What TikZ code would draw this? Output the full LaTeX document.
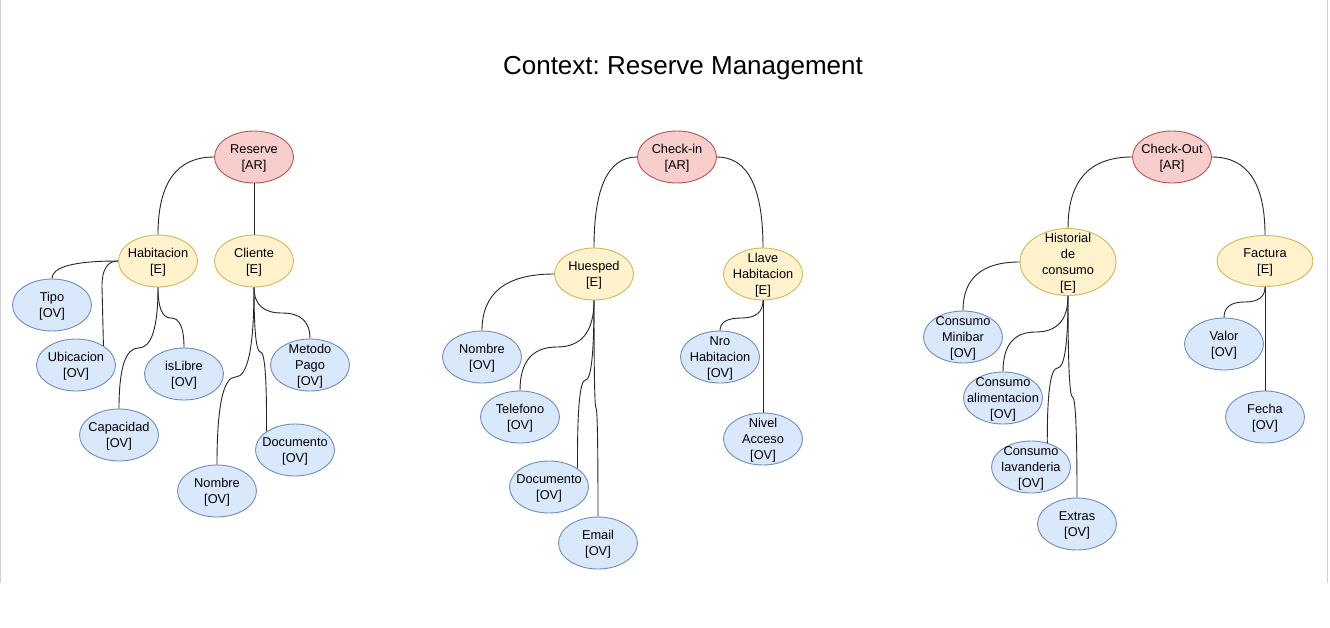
\documentclass[tikz,border=0pt]{standalone}
\usepackage{fontspec}
\setmainfont{Liberation Sans}
\usetikzlibrary{shapes.geometric,calc}
\frenchspacing
\definecolor{arfill}{HTML}{F8CECC}
\definecolor{arline}{HTML}{B85450}
\definecolor{efill}{HTML}{FFF2CC}
\definecolor{eline}{HTML}{D6B656}
\definecolor{ovfill}{HTML}{DAE8FC}
\definecolor{ovline}{HTML}{6C8EBF}
\definecolor{framecol}{HTML}{D0D0D0}
\begin{document}
\begin{tikzpicture}[x=1pt,y=-1pt,
  base/.style={ellipse, draw, line width=0.9pt, inner sep=-20pt, minimum width=79pt, minimum height=52pt, align=center, text depth=0pt, font=\fontsize{12.8}{16}\selectfont},
  ar/.style={base, fill=arfill, draw=arline},
  ent/.style={base, fill=efill, draw=eline},
  ov/.style={base, fill=ovfill, draw=ovline},
  edge/.style={line width=0.9pt, draw=black!85},
  q/.style={to path={.. controls ($(\tikztostart)!0.6667!(#1)$) and ($(\tikztotarget)!0.6667!(#1)$) .. (\tikztotarget)}},
  framel/.style={draw=framecol, line width=1pt}
]
\fill[white] (0,0) rectangle (1330,627);
\useasboundingbox (0,0) rectangle (1330,627);
\coordinate (fl1) at (0.5,0);
\coordinate (fl2) at (0.5,583);
\coordinate (fr1) at (1327.5,0);
\coordinate (fr2) at (1327.5,583);
\draw[framel] (fl1) -- (fl2);
\draw[framel] (fr1) -- (fr2);

\node[font=\fontsize{26}{30}\selectfont] (title) at (683,68) {Context: Reserve Management};

% ---------- Reserve ----------
\node[ar] (res) at (254,157) {Reserve\\{}[AR]};
\node[ent] (hab) at (158,261) {Habitacion\\{}[E]};
\node[ent] (cli) at (254,261) {Cliente\\{}[E]};
\node[ov] (tipo) at (52,305) {Tipo\\{}[OV]};
\node[ov] (ubi) at (76,365) {Ubicacion\\{}[OV]};
\node[ov] (isl) at (184,374) {isLibre\\{}[OV]};
\node[ov] (cap) at (119,435) {Capacidad\\{}[OV]};
\node[ov] (met) at (310,365) {Metodo\\Pago\\{}[OV]};
\node[ov] (cdoc) at (295,450) {Documento\\{}[OV]};
\node[ov] (cnom) at (217,491) {Nombre\\{}[OV]};

% ---------- Check-in ----------
\node[ar] (chk) at (677,157) {Check-in\\{}[AR]};
\node[ent] (hue) at (594,274) {Huesped\\{}[E]};
\node[ent] (lla) at (763,274) {Llave\\Habitacion\\{}[E]};
\node[ov] (hnom) at (482,357) {Nombre\\{}[OV]};
\node[ov] (tel) at (520,417) {Telefono\\{}[OV]};
\node[ov] (hdoc) at (549,487) {Documento\\{}[OV]};
\node[ov] (ema) at (598,543) {Email\\{}[OV]};
\node[ov] (nro) at (720,357) {Nro\\Habitacion\\{}[OV]};
\node[ov] (niv) at (763,439) {Nivel\\Acceso\\{}[OV]};

% ---------- Check-Out ----------
\node[ar] (cko) at (1172,157) {Check-Out\\{}[AR]};
\node[ent, minimum width=96pt, minimum height=67pt] (his) at (1068,262) {Historial\\de\\consumo\\{}[E]};
\node[ent, minimum width=96pt, minimum height=51pt] (fac) at (1265,261) {Factura\\{}[E]};
\node[ov] (mini) at (963,337) {Consumo\\Minibar\\{}[OV]};
\node[ov] (ali) at (1003,398) {Consumo\\alimentacion\\{}[OV]};
\node[ov] (lav) at (1031,467) {Consumo\\lavanderia\\{}[OV]};
\node[ov] (ext) at (1077,524) {Extras\\{}[OV]};
\node[ov] (val) at (1224,344) {Valor\\{}[OV]};
\node[ov] (fec) at (1265,417) {Fecha\\{}[OV]};

% ---------- edges: Reserve ----------
\draw[edge] (res.west) to[q={158,157}] (hab.north);
\draw[edge] (res.south) -- (cli.north);
\draw[edge] (hab.west) to[q={52,261}] (tipo.north);
\draw[edge] (hab.west) to[q={102,261}] (102,286) -- (ubi.35);
\draw[edge] (hab.south) to[q={158,348}] (138.5,348) to[q={119,348}] (cap.north);
\draw[edge] (hab.south) to[q={158,318}] (171,318) to[q={184,318}] (isl.north);
\draw[edge] (cli.south) to[q={254,313}] (282,313) to[q={310,313}] (met.north);
\draw[edge] (cli.south) to[q={254,352}] (260.5,352) to[q={267,352}] (cdoc.147);
\draw[edge] (cli.south) to[q={254,377}] (235.5,377) to[q={217,377}] (cnom.north);

% ---------- edges: Check-in ----------
\draw[edge] (chk.west) to[q={594,157}] (hue.north);
\draw[edge] (chk.east) to[q={763,157}] (lla.north);
\draw[edge] (hue.west) to[q={482,274}] (hnom.north);
\draw[edge] (hue.south) to[q={594,347}] (557,347) to[q={520,347}] (tel.north);
\draw[edge] (hue.south) to[q={594,380}] (585.5,380) to[q={577,380}] (hdoc.33);
\draw[edge] (hue.south) to[q={594,408}] (596,408) to[q={598,408}] (ema.north);
\draw[edge] (lla.south) to[q={763,318}] (741.5,318) to[q={720,318}] (nro.north);
\draw[edge] (lla.south) -- (niv.north);

% ---------- edges: Check-Out ----------
\draw[edge] (cko.west) to[q={1068,157}] (his.north);
\draw[edge] (cko.east) to[q={1265,157}] (fac.north);
\draw[edge] (his.west) to[q={963,262}] (mini.north);
\draw[edge] (his.south) to[q={1068,332}] (1035.5,332) to[q={1003,332}] (ali.north);
\draw[edge] (his.south) to[q={1068,368}] (1057.5,368) to[q={1047,368}] (lav.56);
\draw[edge] (his.south) to[q={1068,397}] (1072.5,397) to[q={1077,397}] (ext.north);
\draw[edge] (fac.south) to[q={1265,302}] (1244.5,302) to[q={1224,302}] (val.north);
\draw[edge] (fac.south) -- (fec.north);
\end{tikzpicture}
\end{document}
